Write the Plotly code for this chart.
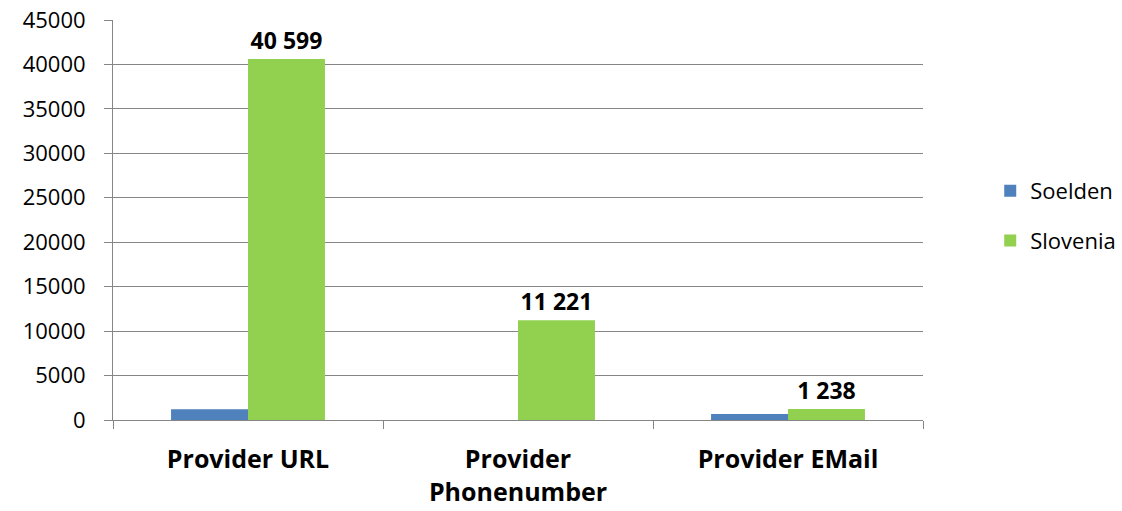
import plotly.graph_objects as go

categories = ["Provider URL", "Provider<br>Phonenumber", "Provider EMail"]
soelden = [1200, 0, 680]
slovenia = [40599, 11221, 1238]
slovenia_labels = ["40 599", "11 221", "1 238"]
y_ticks = [0, 5000, 10000, 15000, 20000, 25000, 30000, 35000, 40000, 45000]
y_tick_labels = [str(v) for v in y_ticks]

fig = go.Figure()

fig.add_trace(go.Bar(
    x=categories,
    y=soelden,
    name="Soelden",
    legendgroup="a",
    marker=dict(color="#4F81BD", line=dict(width=0)),
))

fig.add_trace(go.Bar(
    x=categories,
    y=slovenia,
    name="Slovenia",
    legendgroup="b",
    marker=dict(color="#92D050", line=dict(width=0)),
    text=slovenia_labels,
    textposition="outside",
    textfont=dict(size=23, color="black", family="Open Sans", weight="bold"),
    cliponaxis=False,
))

fig.update_layout(
    width=1122,
    height=511,
    plot_bgcolor="white",
    paper_bgcolor="white",
    barmode="group",
    bargap=0.43,
    bargroupgap=0,
    font=dict(family="Open Sans", color="black"),
    margin=dict(l=113, r=199, t=20, b=91, autoexpand=False),
    legend=dict(
        x=1.083, y=0.51, xanchor="left", yanchor="middle",
        font=dict(size=22),
        tracegroupgap=18,
        itemwidth=30,
    ),
    showlegend=True,
)

fig.update_xaxes(
    tickson="boundaries",
    ticks="outside",
    ticklen=8,
    tickcolor="#868686",
    showline=True,
    linecolor="#868686",
    linewidth=1,
    automargin=False,
    tickfont=dict(size=25, family="Open Sans", weight="bold"),
    ticklabelstandoff=17,
)

fig.update_yaxes(
    range=[0, 45000],
    tickvals=y_ticks,
    ticktext=y_tick_labels,
    ticks="outside",
    ticklen=8,
    tickcolor="#868686",
    showline=True,
    linecolor="#868686",
    gridcolor="#868686",
    gridwidth=1,
    zeroline=False,
    automargin=False,
    tickfont=dict(size=22),
    ticklabelstandoff=14,
)

fig.write_html(
    "out.html",
    config={"displayModeBar": False},
    post_script="document.body.style.margin='0';",
)
